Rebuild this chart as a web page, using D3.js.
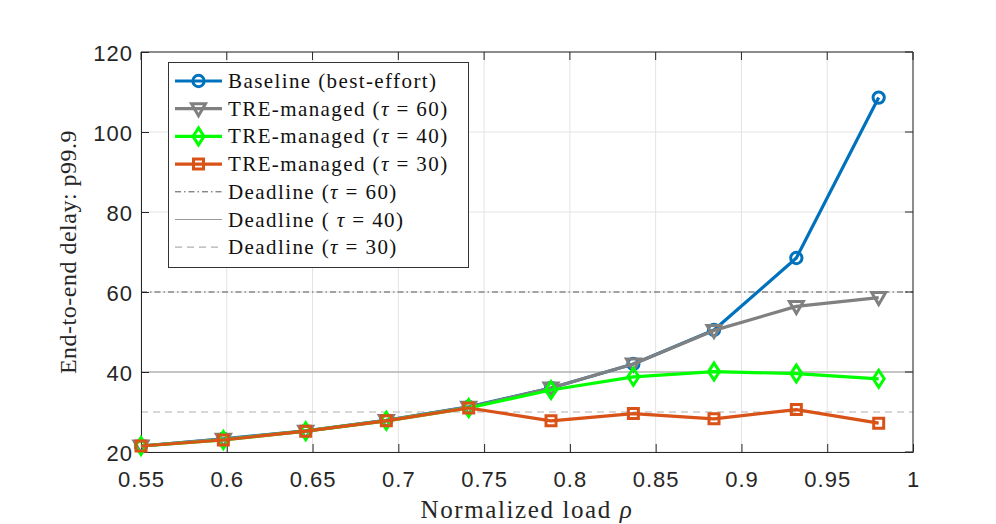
<!DOCTYPE html>
<html>
<head>
<meta charset="utf-8">
<script src="https://cdn.jsdelivr.net/npm/d3@7"></script>
<style>
  body { margin: 0; background: #fff; }
  svg { display: block; }
</style>
</head>
<body>
<div id="root"></div>
<script>
var width = 996;
var height = 524;

// data
var loads = [0.55, 0.598, 0.646, 0.693, 0.741, 0.789, 0.837, 0.884, 0.932, 0.98];
var baseline = [21.5, 23.3, 25.3, 27.9, 31.3, 36, 42, 50.5, 68.5, 108.6];
var tre60 = [21.5, 23.2, 25.2, 27.9, 31.2, 36, 42, 50.4, 56.4, 58.6];
var tre40 = [21.5, 23, 25.2, 27.8, 31, 35.5, 38.8, 40.1, 39.6, 38.3];
var tre30 = [21.5, 23, 25.2, 27.8, 31, 27.8, 29.6, 28.3, 30.6, 27.2];
var deadlines = [60, 40, 30];
var xTicks = [0.55, 0.6, 0.65, 0.7, 0.75, 0.8, 0.85, 0.9, 0.95, 1];
var yTicks = [20, 40, 60, 80, 100, 120];

var padding = { left: 141, right: 83, top: 52, bottom: 72 };
var svg = d3.select('#root')
    .append('svg')
    .attr('width', width).attr('height', height);

var xScale = d3.scaleLinear()
    .domain([0.55, 1])
    .range([padding.left, width - padding.right]);
var yScale = d3.scaleLinear()
    .domain([20, 120])
    .range([height - padding.bottom, padding.top]);

var axisColor = '#262626';
var serif = "'Liberation Serif', 'DejaVu Serif', serif";
var sans = "'Liberation Sans', Arial, sans-serif";

// grid
svg.append('g').selectAll('line')
    .data(xTicks).enter().append('line')
    .attr('x1', function (d) { return xScale(d); })
    .attr('x2', function (d) { return xScale(d); })
    .attr('y1', yScale(20)).attr('y2', yScale(120))
    .attr('stroke', '#e3e3e3').attr('stroke-width', 1);
svg.append('g').selectAll('line')
    .data(yTicks).enter().append('line')
    .attr('y1', function (d) { return yScale(d); })
    .attr('y2', function (d) { return yScale(d); })
    .attr('x1', xScale(0.55)).attr('x2', xScale(1))
    .attr('stroke', '#e3e3e3').attr('stroke-width', 1);

// deadline lines
var deadlineStyle = [
    { color: '#555555', dash: '6,3,1.5,3', w: 1 },
    { color: '#9a9a9a', dash: null, w: 1.2 },
    { color: '#b0b0b0', dash: '7,5', w: 1.2 }
];
deadlines.forEach(function (d, i) {
    svg.append('line')
        .attr('x1', xScale(0.55)).attr('x2', xScale(1))
        .attr('y1', yScale(d)).attr('y2', yScale(d))
        .attr('stroke', deadlineStyle[i].color)
        .attr('stroke-width', deadlineStyle[i].w)
        .attr('stroke-dasharray', deadlineStyle[i].dash);
});

// axes
var xAxis = d3.axisBottom(xScale).tickValues(xTicks).tickSizeInner(-8).tickSizeOuter(0)
    .tickFormat(function (d) { return String(+d.toFixed(2)); });
var yAxis = d3.axisLeft(yScale).tickValues(yTicks).tickSizeInner(-8).tickSizeOuter(0);

var gx = svg.append('g')
    .attr('transform', 'translate(0,' + yScale(20) + ')')
    .call(xAxis);
var gy = svg.append('g')
    .attr('transform', 'translate(' + xScale(0.55) + ',0)')
    .call(yAxis);
[gx, gy].forEach(function (g) {
    g.select('.domain').attr('stroke', axisColor);
    g.selectAll('.tick line').attr('stroke', axisColor);
    g.selectAll('.tick text')
        .attr('fill', axisColor)
        .style('font-family', sans)
        .style('font-size', '22px')
        .style('letter-spacing', '1px');
});
gx.selectAll('.tick text').attr('y', 19).attr('dy', '0.71em');
gy.selectAll('.tick text').attr('x', -8).attr('dy', '0.4em');

// top and right box edges with ticks
svg.append('line')
    .attr('x1', xScale(0.55)).attr('x2', xScale(1))
    .attr('y1', yScale(120)).attr('y2', yScale(120))
    .attr('stroke', axisColor);
svg.append('line')
    .attr('x1', xScale(1)).attr('x2', xScale(1))
    .attr('y1', yScale(20)).attr('y2', yScale(120))
    .attr('stroke', axisColor);
svg.append('g').selectAll('line')
    .data(xTicks).enter().append('line')
    .attr('x1', function (d) { return xScale(d); })
    .attr('x2', function (d) { return xScale(d); })
    .attr('y1', yScale(120)).attr('y2', yScale(120) + 8)
    .attr('stroke', axisColor);
svg.append('g').selectAll('line')
    .data(yTicks).enter().append('line')
    .attr('y1', function (d) { return yScale(d); })
    .attr('y2', function (d) { return yScale(d); })
    .attr('x1', xScale(1)).attr('x2', xScale(1) - 8)
    .attr('stroke', axisColor);

// series
var series = [
    { name: 'Baseline (best-effort)', values: baseline, color: '#0072BD', marker: 'circle' },
    { name: 'TRE-managed', tau: 60, values: tre60, color: '#808080', marker: 'triangle' },
    { name: 'TRE-managed', tau: 40, values: tre40, color: '#00FF00', marker: 'diamond' },
    { name: 'TRE-managed', tau: 30, values: tre30, color: '#D95319', marker: 'square' }
];

function markerPath(type) {
    if (type === 'circle') return d3.symbol().type(d3.symbolCircle).size(100)();
    if (type === 'square') return 'M-5,-5L5,-5L5,5L-5,5Z';
    if (type === 'diamond') return 'M0,-8.5L5.5,0L0,8.5L-5.5,0Z';
    return 'M-7,-5L7,-5L0,7Z';
}

var line = d3.line()
    .x(function (d) { return xScale(d[0]); })
    .y(function (d) { return yScale(d[1]); });

series.forEach(function (s) {
    var pts = loads.map(function (x, i) { return [x, s.values[i]]; });
    svg.append('path')
        .datum(pts)
        .attr('d', line)
        .attr('fill', 'none')
        .attr('stroke', s.color)
        .attr('stroke-width', 3.2)
        .attr('stroke-linejoin', 'round');
    svg.append('g').selectAll('path')
        .data(pts).enter().append('path')
        .attr('transform', function (d) { return 'translate(' + xScale(d[0]) + ',' + yScale(d[1]) + ')'; })
        .attr('d', markerPath(s.marker))
        .attr('fill', 'none')
        .attr('stroke', s.color)
        .attr('stroke-width', 3);
});

// legend
var legend = svg.append('g');
legend.append('rect')
    .attr('x', 168.5).attr('y', 62.5)
    .attr('width', 300).attr('height', 205)
    .attr('fill', '#fff')
    .attr('stroke', '#333').attr('stroke-width', 1);

var legendRows = series.map(function (s) {
    return { label: s.name, tau: s.tau, color: s.color, marker: s.marker, w: 3.2 };
}).concat(deadlines.map(function (d, i) {
    return { label: 'Deadline', tau: d, color: deadlineStyle[i].color, dash: deadlineStyle[i].dash,
             w: deadlineStyle[i].w, space: i === 1 };
}));

legendRows.forEach(function (r, i) {
    var y = 81 + i * 27.7;
    var row = legend.append('g');
    row.append('line')
        .attr('x1', 175).attr('x2', 222)
        .attr('y1', y).attr('y2', y)
        .attr('stroke', r.color).attr('stroke-width', r.w)
        .attr('stroke-dasharray', r.dash || null);
    if (r.marker) {
        row.append('path')
            .attr('transform', 'translate(198.5,' + y + ')')
            .attr('d', markerPath(r.marker))
            .attr('fill', 'none')
            .attr('stroke', r.color)
            .attr('stroke-width', 3);
    }
    var t = row.append('text')
        .attr('x', 228).attr('y', y + 7)
        .style('font-family', serif)
        .style('font-size', '21px')
        .style('letter-spacing', '1.4px')
        .attr('fill', '#111');
    if (r.tau === undefined) {
        t.text(r.label);
    } else {
        t.append('tspan').text(r.label + ' (' + (r.space ? ' ' : ''));
        t.append('tspan').style('font-style', 'italic').text('τ');
        t.append('tspan').text(' = ' + r.tau + ')');
    }
});

// axis titles
var xt = svg.append('text')
    .attr('x', (xScale(0.55) + xScale(1)) / 2)
    .attr('y', 518)
    .attr('text-anchor', 'middle')
    .style('font-family', serif)
    .style('font-size', '25px')
    .style('letter-spacing', '1.6px')
    .attr('fill', '#262626');
xt.append('tspan').text('Normalized load ');
xt.append('tspan').style('font-style', 'italic').text('ρ');

svg.append('text')
    .attr('transform', 'translate(76,' + yScale(70) + ') rotate(-90)')
    .attr('text-anchor', 'middle')
    .style('font-family', serif)
    .style('font-size', '24px')
    .style('letter-spacing', '0.5px')
    .attr('fill', '#262626')
    .text('End-to-end delay: p99.9');
</script>
</body>
</html>
